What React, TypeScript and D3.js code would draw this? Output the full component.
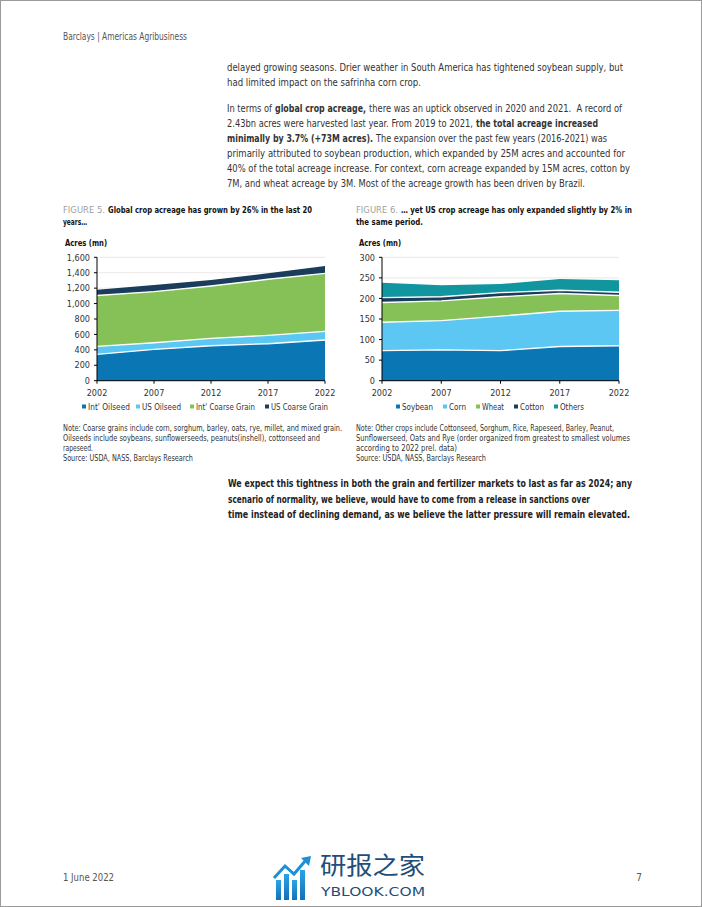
import React from "react";
import * as d3 from "d3";

const years = [2002, 2007, 2012, 2017, 2022];

// Figure 5 series (mn acres)
const globalKeys = ["Int' Oilseed", "US Oilseed", "Int' Coarse Grain", "US Coarse Grain"];
const intOilseed = [342, 406, 454, 480, 528];
const usOilseed = [103, 87, 95, 108, 112];
const intCoarseGrain = [660, 662, 679, 727, 752];
const usCoarseGrain = [73, 86, 78, 77, 96];
const globalTicks = [0, 200, 400, 600, 800, 1000, 1200, 1400, 1600];

// Figure 6 series (mn acres)
const usKeys = ["Soybean", "Corn", "Wheat", "Cotton", "Others"];
const soybean = [73, 75, 73, 83, 85];
const corn = [69, 71, 84, 86, 86];
const wheat = [48, 48, 47, 43, 36];
const cotton = [12, 10, 10, 8, 8];
const others = [36, 28, 21, 27, 29];
const usTicks = [0, 50, 100, 150, 200, 250, 300];

const globalColors = ["#0a76b4", "#5cc7f2", "#86c157", "#1b3d5c"];
const usColors = ["#0a76b4", "#5cc7f2", "#86c157", "#1b3d5c", "#11969f"];

const FONT = "'Liberation Sans Narrow', 'DejaVu Sans Condensed', Roboto, sans-serif";

function T({ x, y, w, t, size = 11, color = "#333", bold = false, ls }: { x: number; y: number; w?: number; t: string; size?: number; color?: string; bold?: boolean; ls?: number }) {
  return (
    <text
      x={x}
      y={y}
      fontSize={size}
      fill={color}
      fontWeight={bold ? 700 : 400}
      letterSpacing={ls}
      textLength={w}
      lengthAdjust={w ? "spacingAndGlyphs" : undefined}
      style={{ whiteSpace: "pre" }}
    >
      {t}
    </text>
  );
}

function StackChart({
  keys,
  series,
  colors,
  ticks,
  yMax,
  x0,
  x1,
  legendX,
  legendW,
  tickFmt,
}: {
  keys: string[];
  series: number[][];
  colors: string[];
  ticks: number[];
  yMax: number;
  x0: number;
  x1: number;
  legendX: number[];
  legendW: number[];
  tickFmt: (v: number) => string;
}) {
  const yTop = 257.3;
  const yBot = 380.7;
  const x = d3.scaleLinear().domain([years[0], years[years.length - 1]]).range([x0, x1]);
  const y = d3.scaleLinear().domain([0, yMax]).range([yBot, yTop]);
  const rows = years.map((yr, i) => {
    const r: any = { year: yr };
    keys.forEach((k, j) => (r[k] = series[j][i]));
    return r;
  });
  const stacked = d3.stack<any>().keys(keys)(rows);
  const area = d3
    .area<any>()
    .x((d) => x(d.data.year))
    .y0((d) => y(d[0]))
    .y1((d) => y(d[1]));
  const topLine = d3
    .line<any>()
    .x((d) => x(d.data.year))
    .y((d) => y(d[1]));
  return (
    <g fontFamily={FONT}>
      {ticks.map((t) => (
        <line key={"g" + t} x1={x0} x2={x1} y1={y(t)} y2={y(t)} stroke="#e3e3e3" strokeWidth={0.8} />
      ))}
      {stacked.map((s, i) => (
        <path key={"a" + i} d={area(s) || ""} fill={colors[i]} />
      ))}
      {stacked.slice(0, stacked.length - 1).map((s, i) => (
        <path key={"l" + i} d={topLine(s) || ""} fill="none" stroke="#fff" strokeWidth={1.4} />
      ))}
      <line x1={x0} x2={x0} y1={yTop} y2={yBot} stroke="#000" strokeWidth={1} />
      <line x1={x0} x2={x1} y1={yBot} y2={yBot} stroke="#000" strokeWidth={1} />
      {ticks.map((t) => (
        <g key={"t" + t}>
          <line x1={x0 - 3} x2={x0} y1={y(t)} y2={y(t)} stroke="#000" />
          <text x={x0 - 7} y={y(t) + 3.2} fontSize={9} fill="#333" textAnchor="end">
            {tickFmt(t)}
          </text>
        </g>
      ))}
      {years.map((yr) => (
        <g key={"x" + yr}>
          <line x1={x(yr)} x2={x(yr)} y1={yBot} y2={yBot + 3} stroke="#000" />
          <text x={x(yr)} y={yBot + 15.5} fontSize={9} fill="#333" textAnchor="middle">
            {yr}
          </text>
        </g>
      ))}
      {keys.map((k, i) => (
        <g key={"lg" + k}>
          <rect x={legendX[i] - 2} y={404.5} width={4} height={4} fill={colors[i]} />
          <text
            x={legendX[i] + 4}
            y={409.5}
            fontSize={9}
            fill="#333"
            textLength={legendW[i]}
            lengthAdjust="spacingAndGlyphs"
          >
            {k}
          </text>
        </g>
      ))}
    </g>
  );
}

export default function App() {
  const fmtComma = d3.format(",");
  return (
    <svg
      width={702}
      height={907}
      viewBox="0 0 702 907"
      style={{ position: "absolute", left: 0, top: 0, background: "#fff" }}
      fontFamily={FONT}
    >
      <rect x={0.5} y={0.5} width={701} height={906} fill="#fff" stroke="#9a9a9a" strokeWidth={1} />
      <T x={63} y={40} w={124} size={10} color="#555" t="Barclays | Americas Agribusiness" />

      <T x={227} y={71} w={396} t="delayed growing seasons. Drier weather in South America has tightened soybean supply, but" />
      <T x={227} y={86} w={194} t="had limited impact on the safrinha corn crop." />

      <T x={227} y={111.5} w={45} t="In terms of" />
      <T x={275} y={111.5} w={91} bold t="global crop acreage," />
      <T x={369} y={111.5} w={253} t="there was an uptick observed in 2020 and 2021.  A record of" />

      <T x={227} y={126.5} w={246} t="2.43bn acres were harvested last year. From 2019 to 2021," />
      <T x={476} y={126.5} w={122} bold t="the total acreage increased" />

      <T x={227} y={141.5} w={146} bold t="minimally by 3.7% (+73M acres)." />
      <T x={376} y={141.5} w={231} t="The expansion over the past few years (2016-2021) was" />

      <T x={227} y={156.5} w={398} t="primarily attributed to soybean production, which expanded by 25M acres and accounted for" />
      <T x={227} y={171.5} w={403} t="40% of the total acreage increase. For context, corn acreage expanded by 15M acres, cotton by" />
      <T x={227} y={186.5} w={358} t="7M, and wheat acreage by 3M. Most of the acreage growth has been driven by Brazil." />

      {/* Figure titles */}
      <T x={63} y={213} w={42} size={9} color="#a0a0a0" t="FIGURE 5." />
      <T x={108} y={213} w={204} size={9.2} color="#111" bold t="Global crop acreage has grown by 26% in the last 20" />
      <T x={63} y={224.5} w={24} size={9.2} color="#111" bold t="years…" />
      <T x={356} y={213} w={42} size={9} color="#a0a0a0" t="FIGURE 6." />
      <T x={401} y={213} w={231} size={9.2} color="#111" bold t="… yet US crop acreage has only expanded slightly by 2% in" />
      <T x={356} y={224.5} w={67} size={9.2} color="#111" bold t="the same period." />

      <T x={65} y={246} w={42} size={9} color="#111" bold t="Acres (mn)" />
      <T x={359} y={246} w={42} size={9} color="#111" bold t="Acres (mn)" />

      <StackChart
        keys={globalKeys}
        series={[intOilseed, usOilseed, intCoarseGrain, usCoarseGrain]}
        colors={globalColors}
        ticks={globalTicks}
        yMax={1600}
        x0={97}
        x1={325}
        legendX={[84, 138, 192, 267]}
        legendW={[42, 39, 59, 57]}
        tickFmt={(v) => fmtComma(v)}
      />
      <StackChart
        keys={usKeys}
        series={[soybean, corn, wheat, cotton, others]}
        colors={usColors}
        ticks={usTicks}
        yMax={300}
        x0={382}
        x1={619}
        legendX={[398, 445, 478, 516, 556]}
        legendW={[31, 17, 22, 24, 24]}
        tickFmt={(v) => String(v)}
      />

      {/* Notes */}
      <T x={63} y={430.5} w={279} size={8} t="Note: Coarse grains include corn, sorghum, barley, oats, rye, millet, and mixed grain." />
      <T x={63} y={440.5} w={257} size={8} t="Oilseeds include soybeans, sunflowerseeds, peanuts(inshell), cottonseed and" />
      <T x={63} y={450.5} w={30} size={8} t="rapeseed." />
      <T x={63} y={460.5} w={130} size={8} t="Source: USDA, NASS, Barclays Research" />

      <T x={356} y={430.5} w={258} size={8} t="Note: Other crops include Cottonseed, Sorghum, Rice, Rapeseed, Barley, Peanut," />
      <T x={356} y={440.5} w={274} size={8} t="Sunflowerseed, Oats and Rye (order organized from greatest to smallest volumes" />
      <T x={356} y={450.5} w={101} size={8} t="according to 2022 prel. data)" />
      <T x={356} y={460.5} w={130} size={8} t="Source: USDA, NASS, Barclays Research" />

      {/* Bold paragraph */}
      <T x={228} y={487} w={404} size={10.5} color="#222" bold t="We expect this tightness in both the grain and fertilizer markets to last as far as 2024; any" />
      <T x={228} y={502.5} w={362} size={10.5} color="#222" bold t="scenario of normality, we believe, would have to come from a release in sanctions over" />
      <T x={228} y={518} w={402} size={10.5} color="#222" bold t="time instead of declining demand, as we believe the latter pressure will remain elevated." />

      {/* Footer */}
      <T x={63} y={881} w={51} size={10} color="#555" t="1 June 2022" />
      <text x={639} y={881} fontSize={10} fill="#555" textAnchor="middle">7</text>

      {/* Logo */}
      <defs>
        <linearGradient id="logoGrad" x1="0" y1="0" x2="0" y2="1">
          <stop offset="0" stopColor="#2aa3e6" />
          <stop offset="1" stopColor="#1570b8" />
        </linearGradient>
      </defs>
      <g>
        <rect x={276} y={880} width={5} height={20} fill="url(#logoGrad)" />
        <rect x={284} y={874} width={5} height={26} fill="url(#logoGrad)" />
        <rect x={292} y={880} width={5} height={20} fill="url(#logoGrad)" />
        <rect x={300} y={870} width={5} height={30} fill="url(#logoGrad)" />
        <polyline points="274,878 285,866 294,874 306,860" fill="none" stroke="#1e8fd6" strokeWidth={3} />
        <polygon points="301,858 311,856 309,866" fill="#1e8fd6" />
        <text x={320} y={874} fontSize={24} fill="#1f4e79" fontFamily="'Noto Sans CJK SC', sans-serif" textLength={105} lengthAdjust="spacingAndGlyphs">
          研报之家
        </text>
        <text x={321} y={896} fontSize={13} fill="#1f4e79" fontFamily="'DejaVu Sans', sans-serif" textLength={104} lengthAdjust="spacingAndGlyphs">
          YBLOOK.COM
        </text>
      </g>
    </svg>
  );
}
